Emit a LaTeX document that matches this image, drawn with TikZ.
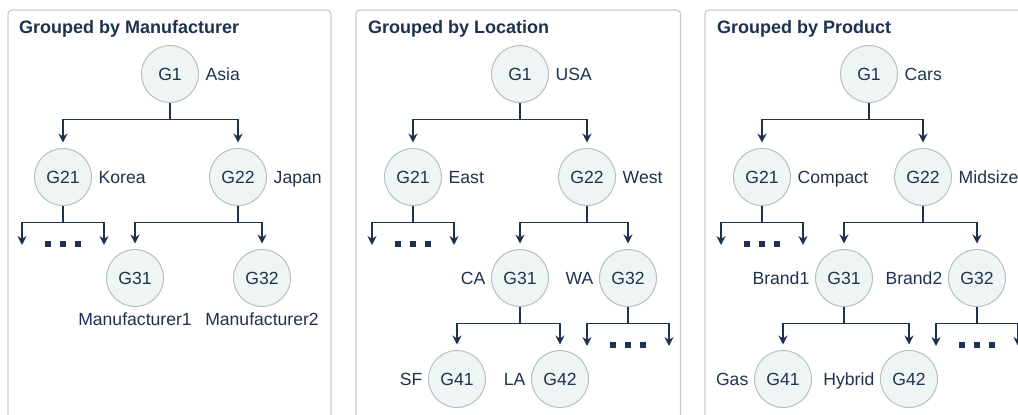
\documentclass[tikz,border=0pt]{standalone}
\usepackage{fontspec}
\setmainfont{Liberation Sans}
\usetikzlibrary{arrows.meta}
\definecolor{ink}{HTML}{1E3250}
\definecolor{nodefill}{HTML}{EEF5F4}
\definecolor{nodeline}{HTML}{B8BFC2}
\definecolor{framecol}{HTML}{C8CCCF}
\tikzset{
  grp/.style={circle, draw=nodeline, fill=nodefill, line width=1pt,
    minimum size=57pt, inner sep=0pt, text=ink,
    font=\fontsize{17.6}{20}\selectfont},
  lbl/.style={text=ink, font=\fontsize{17.6}{20}\selectfont, inner sep=0pt},
  rlbl/.style={label={[lbl,label distance=6.5pt,anchor=base west,yshift=-6.3pt]east:#1}},
  llbl/.style={label={[lbl,label distance=5.5pt,anchor=base east,yshift=-6.3pt]west:#1}},
  blbl/.style={label={[lbl,label distance=6pt]south:#1}},
  conn/.style={draw=ink, line width=1.5pt, shorten >=5.5pt,
    -{Stealth[length=9pt,width=9pt]}},
  openconn/.style={draw=ink, line width=1.5pt,
    -{Stealth[length=9pt,width=9pt]}},
  more/.style={rectangle, fill=ink, minimum size=6pt, inner sep=0pt},
  panel/.style={draw=framecol, line width=1.2pt, rounded corners=4pt},
  title/.style={text=ink, font=\fontsize{18}{21}\selectfont\bfseries,
    inner sep=0pt, anchor=base west}
}
\begin{document}
\begin{tikzpicture}[x=1pt, y=-1pt]
\useasboundingbox (0,0) rectangle (1018,415);
\clip (0,0) rectangle (1018,415);
\fill[white] (0,0) rectangle (1018,415);

% panel frames
\draw[panel] (8,440) rectangle (331,10);
\draw[panel] (356,440) rectangle (680.5,10);
\draw[panel] (705,440) rectangle (1040,10);

\node[title] (t1) at (19,33) {Grouped by Manufacturer};
\node[title] (t2) at (368,33) {Grouped by Location};
\node[title] (t3) at (717,33) {Grouped by Product};

% ---- manufacturer tree ----
\node[grp, rlbl=Asia]  (m1)  at (170,74) {G1};
\node[grp, rlbl=Korea] (m21) at (63,177) {G21};
\node[grp, rlbl=Japan] (m22) at (238,177) {G22};
\node[grp, blbl=Manufacturer1] (m31) at (135,278) {G31};
\node[grp, blbl=Manufacturer2] (m32) at (262,278) {G32};
\coordinate (m21l) at (22,245);
\coordinate (m21r) at (104,245);
\draw[conn] (m1.south) -- ++(0,16.5) -| (m21);
\draw[conn] (m1.south) -- ++(0,16.5) -| (m22);
\draw[openconn] (m21.south) -- ++(0,16.5) -| (m21l);
\draw[openconn] (m21.south) -- ++(0,16.5) -| (m21r);
\draw[conn] (m22.south) -- ++(0,16.5) -| (m31);
\draw[conn] (m22.south) -- ++(0,16.5) -| (m32);
\node[more] (md1) at (48,244) {};
\node[more] (md2) at (63,244) {};
\node[more] (md3) at (78,244) {};

% ---- location tree ----
\node[grp, rlbl=USA]  (l1)  at (520,74) {G1};
\node[grp, rlbl=East] (l21) at (413,177) {G21};
\node[grp, rlbl=West] (l22) at (587,177) {G22};
\node[grp, llbl=CA] (l31) at (520,278) {G31};
\node[grp, llbl=WA] (l32) at (628,278) {G32};
\node[grp, llbl=SF] (l41) at (457,379) {G41};
\node[grp, llbl=LA] (l42) at (560,379) {G42};
\coordinate (l21l) at (372,245);
\coordinate (l21r) at (454,245);
\coordinate (l32l) at (587,346);
\coordinate (l32r) at (669,346);
\draw[conn] (l1.south) -- ++(0,16.5) -| (l21);
\draw[conn] (l1.south) -- ++(0,16.5) -| (l22);
\draw[openconn] (l21.south) -- ++(0,16.5) -| (l21l);
\draw[openconn] (l21.south) -- ++(0,16.5) -| (l21r);
\draw[conn] (l22.south) -- ++(0,16.5) -| (l31);
\draw[conn] (l22.south) -- ++(0,16.5) -| (l32);
\draw[conn] (l31.south) -- ++(0,16.5) -| (l41);
\draw[conn] (l31.south) -- ++(0,16.5) -| (l42);
\draw[openconn] (l32.south) -- ++(0,16.5) -| (l32l);
\draw[openconn] (l32.south) -- ++(0,16.5) -| (l32r);
\node[more] (ld1) at (398,244) {};
\node[more] (ld2) at (413,244) {};
\node[more] (ld3) at (428,244) {};
\node[more] (ld4) at (613,344.5) {};
\node[more] (ld5) at (628,344.5) {};
\node[more] (ld6) at (643,344.5) {};

% ---- product tree ----
\node[grp, rlbl=Cars]    (p1)  at (869,74) {G1};
\node[grp, rlbl=Compact] (p21) at (762,177) {G21};
\node[grp, rlbl=Midsize] (p22) at (923,177) {G22};
\node[grp, llbl=Brand1] (p31) at (844,278) {G31};
\node[grp, llbl=Brand2] (p32) at (977,278) {G32};
\node[grp, llbl=Gas]    (p41) at (783,379) {G41};
\node[grp, llbl=Hybrid] (p42) at (909,379) {G42};
\coordinate (p21l) at (721,245);
\coordinate (p21r) at (803,245);
\coordinate (p32l) at (936,346);
\coordinate (p32r) at (1018,346);
\draw[conn] (p1.south) -- ++(0,16.5) -| (p21);
\draw[conn] (p1.south) -- ++(0,16.5) -| (p22);
\draw[openconn] (p21.south) -- ++(0,16.5) -| (p21l);
\draw[openconn] (p21.south) -- ++(0,16.5) -| (p21r);
\draw[conn] (p22.south) -- ++(0,16.5) -| (p31);
\draw[conn] (p22.south) -- ++(0,16.5) -| (p32);
\draw[conn] (p31.south) -- ++(0,16.5) -| (p41);
\draw[conn] (p31.south) -- ++(0,16.5) -| (p42);
\draw[openconn] (p32.south) -- ++(0,16.5) -| (p32l);
\draw[openconn] (p32.south) -- ++(0,16.5) -| (p32r);
\node[more] (pd1) at (747,244) {};
\node[more] (pd2) at (762,244) {};
\node[more] (pd3) at (777,244) {};
\node[more] (pd4) at (962,344.5) {};
\node[more] (pd5) at (977,344.5) {};
\node[more] (pd6) at (992,344.5) {};
\end{tikzpicture}
\end{document}
